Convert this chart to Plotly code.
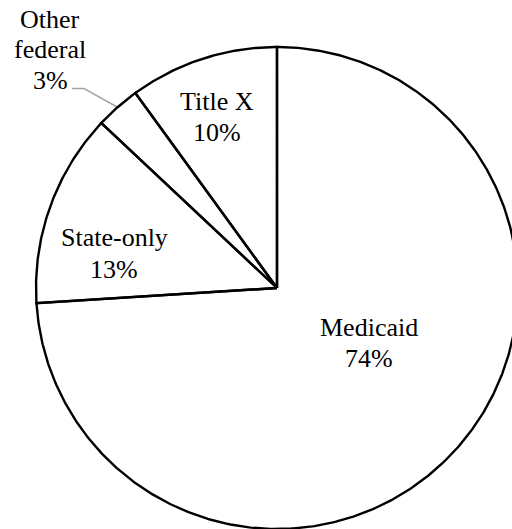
import numpy as np
import plotly.graph_objects as go

# Family planning funding sources, share of total (%)
categories = ["Medicaid", "State-only", "Other\nfederal", "Title X"]
values = [74, 13, 3, 10]

# Pie geometry in pixel units of the plot area
CX, CY, R = 277.0, 288.0, 241.0
W, H = 512, 529
FONT = dict(family="Liberation Serif", size=26, color="black")

# Label placement: (centre x, first baseline y, line step)
label_pos = {
    "Medicaid": (369, 336.5, 30.5),
    "State-only": (114, 246.5, 31.5),
    "Other\nfederal": (50, 28.0, 30.5),
    "Title X": (217, 110.0, 31.5),
}


def point(theta_deg, r=R):
    # theta measured clockwise from 12 o'clock; screen y grows downward
    t = np.radians(theta_deg)
    return CX + r * np.sin(t), CY - r * np.cos(t)


fig = go.Figure()

# Leader line for the small "Other federal" slice (drawn first, under the outline)
total = float(sum(values))
bounds = np.concatenate([[0.0], np.cumsum(values) / total * 360.0])
mids = {name: (bounds[i] + bounds[i + 1]) / 2.0 for i, name in enumerate(categories)}
ex, ey = point(mids["Other\nfederal"])
fig.add_trace(go.Scatter(
    x=[72, 84, ex], y=[88.5, 88.5, ey], mode="lines",
    line=dict(color="#a6a6a6", width=1.5), hoverinfo="skip", showlegend=False,
))

# Slice outlines on a white background
for i, name in enumerate(categories):
    start, end = bounds[i], bounds[i + 1]
    th = np.linspace(start, end, max(int((end - start) * 2), 8))
    xs, ys = point(th)
    px = np.concatenate([[CX], xs, [CX]])
    py = np.concatenate([[CY], ys, [CY]])
    fig.add_trace(go.Scatter(
        x=px, y=py, mode="lines",
        line=dict(color="black", width=2.4), hoverinfo="skip",
        showlegend=False, name=name.replace("\n", " "),
    ))

annotations = []
for name, v in zip(categories, values):
    lines = name.split("\n") + [f"{v}%"]
    x0, y0, step = label_pos[name]
    for i, ln in enumerate(lines):
        base = y0 + i * step
        annotations.append(dict(
            x=x0, y=base - 0.34 * FONT["size"], xref="x", yref="y",
            text=ln, showarrow=False, font=FONT,
            xanchor="center", yanchor="middle",
        ))

fig.update_layout(
    width=W, height=H,
    margin=dict(l=0, r=0, t=0, b=0),
    paper_bgcolor="white", plot_bgcolor="white",
    xaxis=dict(range=[0, W], visible=False, fixedrange=True),
    yaxis=dict(range=[H, 0], visible=False, fixedrange=True),
    annotations=annotations,
)

fig.write_html("out.html")
